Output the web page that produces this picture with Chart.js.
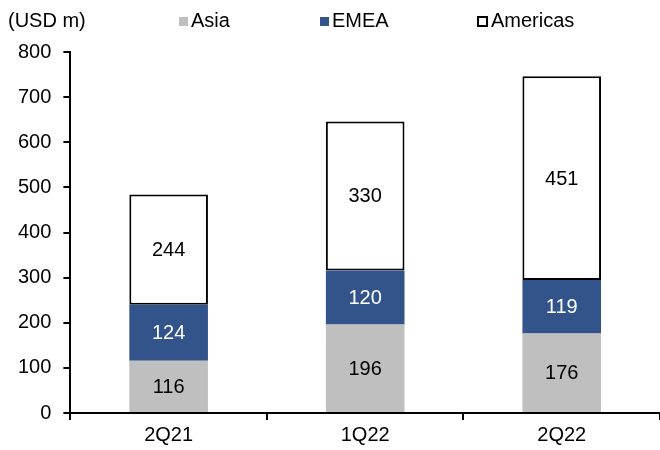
<!DOCTYPE html>
<html>
<head>
<meta charset="utf-8">
<script src="https://cdn.jsdelivr.net/npm/chart.js@4/dist/chart.umd.min.js"></script>
<style>
  html, body { margin: 0; padding: 0; background: #fff; }
  #wrap { width: 660px; height: 450px; position: relative; }
</style>
</head>
<body>
<div id="wrap"><canvas id="revChart"></canvas></div>
<script>
// chart data
const quarters = ['2Q21', '1Q22', '2Q22'];
const asia = [116, 196, 176];
const emea = [124, 120, 119];
const americas = [244, 330, 451];
const yTicks = [0, 100, 200, 300, 400, 500, 600, 700, 800];
const unitLabel = '(USD m)';

const FONT = "'Liberation Sans', Arial, sans-serif";
Chart.defaults.font.family = FONT;
Chart.defaults.font.size = 20;
Chart.defaults.color = '#000';

// values written in the middle of each segment
const segmentLabels = {
    id: 'segmentLabels',
    afterDatasetsDraw(chart) {
        const ctx = chart.ctx;
        ctx.save();
        ctx.font = '20px ' + FONT;
        ctx.textAlign = 'center';
        ctx.textBaseline = 'middle';
        chart.data.datasets.forEach((ds, i) => {
            const meta = chart.getDatasetMeta(i);
            meta.data.forEach((bar, j) => {
                const mid = (bar.y + bar.base) / 2;
                ctx.fillStyle = ds.labelColor;
                ctx.fillText(ds.data[j], bar.x, mid + 1);
            });
        });
        ctx.restore();
    }
};

// unit text + legend along the top
const topLegend = {
    id: 'topLegend',
    afterDraw(chart) {
        const ctx = chart.ctx;
        ctx.save();
        ctx.font = '20px ' + FONT;
        ctx.textBaseline = 'middle';
        ctx.textAlign = 'left';
        ctx.fillStyle = '#000';
        ctx.fillText(unitLabel, 8, 21);
        const startX = [179, 320, 477];
        chart.data.datasets.forEach((ds, i) => {
            const x = startX[i];
            if (ds.borderWidth > 0) {
                ctx.fillStyle = '#fff';
                ctx.fillRect(x, 16, 11, 11);
                ctx.strokeStyle = ds.borderColor;
                ctx.lineWidth = 2;
                ctx.strokeRect(x + 1, 17, 9, 9);
            } else {
                ctx.fillStyle = ds.backgroundColor;
                ctx.fillRect(x, 17, 9, 9);
            }
            ctx.fillStyle = '#000';
            ctx.fillText(ds.label, x + (ds.borderWidth > 0 ? 14 : 12), 21);
        });
        ctx.restore();
    }
};

new Chart(document.getElementById('revChart'), {
    type: 'bar',
    data: {
        labels: quarters,
        datasets: [
            { label: 'Asia', data: asia, backgroundColor: '#bfbfbf', borderWidth: 0, labelColor: '#000' },
            { label: 'EMEA', data: emea, backgroundColor: '#32548a', borderWidth: 0, labelColor: '#fff' },
            { label: 'Americas', data: americas, backgroundColor: '#fff', borderColor: '#000',
              borderWidth: 2, borderSkipped: false, labelColor: '#000' }
        ]
    },
    options: {
        responsive: true,
        maintainAspectRatio: false,
        animation: false,
        layout: { padding: { top: 52, left: 6, right: 0, bottom: 0 } },
        datasets: { bar: { barPercentage: 0.4, categoryPercentage: 1 } },
        plugins: {
            legend: { display: false },
            tooltip: { enabled: false }
        },
        scales: {
            x: {
                stacked: true,
                grid: { drawOnChartArea: false, drawTicks: true, tickLength: 7, color: '#000', lineWidth: 2 },
                border: { display: true, color: '#000', width: 2 },
                ticks: { padding: 5, font: { size: 20, lineHeight: 1 } }
            },
            y: {
                stacked: true,
                min: yTicks[0],
                max: yTicks[yTicks.length - 1],
                afterBuildTicks: axis => { axis.ticks = yTicks.map(v => ({ value: v })); },
                grid: { drawOnChartArea: false, drawTicks: true, tickLength: 7, color: '#000', lineWidth: 2 },
                border: { display: true, color: '#000', width: 2 },
                ticks: { padding: 12, font: { size: 20 } }
            }
        }
    },
    plugins: [segmentLabels, topLegend]
});
</script>
</body>
</html>
